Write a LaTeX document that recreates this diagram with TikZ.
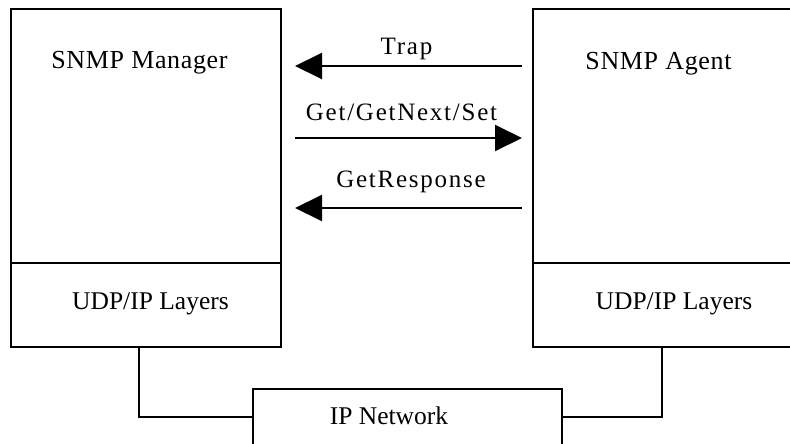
\documentclass[tikz,border=0pt]{standalone}
\usepackage{fontspec}
\setmainfont{Liberation Serif}
\newfontfamily\spacedfont[LetterSpace=2.5]{Liberation Serif}
\newfontfamily\arrowfont[LetterSpace=7]{Liberation Serif}
\usetikzlibrary{arrows.meta}
\begin{document}
\begin{tikzpicture}[x=1pt,y=-1pt,
  box/.style={draw, line width=2pt, inner sep=0pt, rectangle},
  lbl/.style={inner sep=0pt, anchor=base},
  bigtxt/.style={lbl, font=\spacedfont\fontsize{26}{30}\selectfont},
  laytxt/.style={lbl, font=\fontsize{25.5}{29}\selectfont},
  msgtxt/.style={lbl, font=\arrowfont\fontsize{25}{29}\selectfont},
  msg/.style={line width=2pt, -{Triangle[length=27pt,width=26pt]}},
  wire/.style={line width=2pt}]
\useasboundingbox (0,0) rectangle (790,444);
\clip (0,0) rectangle (790,444);
% boxes
\node[box, minimum width=270pt, minimum height=338pt] (mgr) at (146,178) {};
\node[box, minimum width=267pt, minimum height=338pt] (agt) at (666.5,178) {};
\node[box, minimum width=309.5pt, minimum height=56pt] (net) at (407.5,417) {};
% layer dividers
\draw[wire] (mgr.west |- 0,263) -- (mgr.east |- 0,263);
\draw[wire] (agt.west |- 0,263) -- (agt.east |- 0,263);
% texts
\node[bigtxt] (mgrname) at (139.5,69) {SNMP Manager};
\node[bigtxt] (agtname) at (658.5,70) {SNMP Agent};
\node[laytxt] (mgrlay) at (150.5,309) {UDP/IP Layers};
\node[laytxt] (agtlay) at (674,309) {UDP/IP Layers};
\node[laytxt] (netname) at (389,424) {IP Network};
% messages
\coordinate (trapR) at (522,66);
\coordinate (trapL) at (295,66);
\coordinate (getL) at (295,138);
\coordinate (getR) at (522,138);
\coordinate (respR) at (522,208);
\coordinate (respL) at (295,208);
\draw[msg] (trapR) -- (trapL);
\draw[msg] (getL) -- (getR);
\draw[msg] (respR) -- (respL);
\node[msgtxt] (traplbl) at (406.5,55) {Trap};
\node[msgtxt] (getlbl) at (401.5,120) {Get/GetNext/Set};
\node[msgtxt] (resplbl) at (411,187) {GetResponse};
% network wires
\coordinate (mgrport) at (139,347);
\coordinate (agtport) at (662,347);
\draw[wire] (mgrport) |- (net.west);
\draw[wire] (agtport) |- (net.east);
\end{tikzpicture}
\end{document}
